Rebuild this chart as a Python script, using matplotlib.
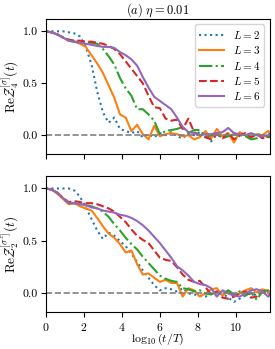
import matplotlib
matplotlib.use("Agg")
import matplotlib.pyplot as plt

plt.rcParams['font.family'] = 'serif'
plt.rcParams['font.serif'] = ['cmr10', 'DejaVu Serif']
plt.rcParams['mathtext.fontset'] = 'cm'
plt.rcParams['axes.formatter.use_mathtext'] = True
plt.rcParams['font.size'] = 8

log_t = [0.0, 0.3, 0.6, 0.9, 1.2, 1.5, 1.8, 2.1, 2.4, 2.7, 3.0, 3.3, 3.6, 3.9, 4.2,
         4.5, 4.8, 5.1, 5.4, 5.7, 6.0, 6.3, 6.6, 6.9, 7.2, 7.5, 7.8, 8.1, 8.4, 8.7,
         9.0, 9.3, 9.6, 9.9, 10.2, 10.5, 10.8, 11.1, 11.4, 11.7, 12.0]

sizes = [2, 3, 4, 5, 6]

# top panel: Re Z_4^[sigma]
z4_L2 = [1.0, 1.0, 1.0, 1.0, 0.99, 0.98, 0.95, 0.85, 0.68, 0.42, 0.22, 0.12, 0.17, 0.06, 0.04,
         0.02, 0.04, -0.02, 0.01, -0.02, 0.02, 0.0, 0.03, -0.01, -0.03, 0.02, 0.0, 0.03, 0.0, -0.06,
         0.01, -0.02, 0.0, 0.02, -0.01, 0.01, -0.02, 0.01, 0.0, 0.02, 0.0]
z4_L3 = [1.0, 0.99, 0.97, 0.94, 0.91, 0.9, 0.88, 0.85, 0.77, 0.69, 0.6, 0.48, 0.36, 0.2, 0.17,
         0.04, 0.1, 0.01, -0.04, 0.09, -0.01, 0.01, 0.02, 0.01, -0.01, 0.0, -0.04, -0.02, 0.04, -0.03,
         0.06, -0.01, 0.02, -0.07, 0.03, 0.0, -0.02, 0.01, 0.0, 0.04, 0.0]
z4_L4 = [1.0, 0.99, 0.97, 0.94, 0.91, 0.9, 0.9, 0.89, 0.89, 0.88, 0.83, 0.76, 0.68, 0.55, 0.45,
         0.38, 0.25, 0.25, 0.2, 0.14, 0.01, 0.04, 0.05, 0.06, 0.08, 0.02, 0.05, 0.05, -0.02, 0.0,
         0.02, -0.03, -0.01, 0.01, 0.0, -0.01, -0.04, -0.03, 0.0, -0.02, 0.0]
z4_L5 = [1.0, 0.99, 0.97, 0.94, 0.92, 0.91, 0.91, 0.9, 0.9, 0.89, 0.88, 0.86, 0.83, 0.78, 0.71,
         0.64, 0.57, 0.5, 0.38, 0.27, 0.26, 0.16, 0.14, 0.15, 0.06, 0.16, 0.03, 0.0, -0.02, -0.04,
         0.01, -0.03, 0.02, -0.04, 0.0, 0.02, -0.02, 0.01, -0.03, -0.01, 0.0]
z4_L6 = [1.0, 0.99, 0.97, 0.94, 0.91, 0.9, 0.89, 0.88, 0.87, 0.86, 0.85, 0.85, 0.84, 0.8, 0.77,
         0.73, 0.67, 0.56, 0.46, 0.37, 0.33, 0.29, 0.25, 0.17, 0.08, 0.03, 0.02, 0.0, 0.01, 0.01,
         0.02, 0.03, 0.07, 0.02, 0.01, 0.0, 0.02, 0.0, -0.01, 0.0, 0.0]

# bottom panel: Re Z_2^[sigma^z]
z2_L2 = [1.0, 1.0, 1.0, 1.0, 1.0, 0.98, 0.92, 0.82, 0.71, 0.6, 0.52, 0.58, 0.55, 0.5, 0.45,
         0.38, 0.3, 0.22, 0.15, 0.08, 0.03, 0.05, 0.04, 0.02, 0.05, 0.0, -0.01, -0.02, -0.03, 0.0,
         -0.02, 0.0, -0.04, -0.08, -0.05, -0.02, 0.0, -0.02, 0.01, -0.01, 0.0]
z2_L3 = [1.0, 0.99, 0.95, 0.9, 0.85, 0.86, 0.83, 0.81, 0.79, 0.72, 0.64, 0.57, 0.53, 0.47, 0.39,
         0.41, 0.28, 0.18, 0.19, 0.15, 0.11, 0.13, 0.1, 0.1, -0.03, 0.05, 0.03, -0.03, 0.0, 0.04,
         0.05, -0.02, 0.02, -0.03, 0.0, 0.03, 0.05, 0.01, 0.04, 0.02, 0.03]
z2_L4 = [1.0, 0.99, 0.96, 0.91, 0.86, 0.86, 0.85, 0.84, 0.83, 0.81, 0.78, 0.73, 0.66, 0.6, 0.53,
         0.47, 0.42, 0.35, 0.29, 0.23, 0.17, 0.14, 0.12, 0.11, 0.05, 0.04, 0.02, 0.03, 0.0, -0.01,
         0.02, 0.0, 0.03, -0.01, 0.02, -0.02, 0.01, -0.06, 0.02, 0.03, 0.02]
z2_L5 = [1.0, 0.99, 0.96, 0.91, 0.87, 0.88, 0.87, 0.86, 0.86, 0.85, 0.83, 0.81, 0.78, 0.73, 0.68,
         0.61, 0.55, 0.51, 0.48, 0.41, 0.34, 0.32, 0.31, 0.25, 0.18, 0.13, 0.11, 0.12, 0.06, -0.01,
         0.02, -0.04, -0.05, -0.03, 0.0, 0.02, -0.04, -0.03, 0.02, -0.02, 0.0]
z2_L6 = [1.0, 0.99, 0.96, 0.91, 0.86, 0.86, 0.85, 0.84, 0.82, 0.81, 0.79, 0.78, 0.77, 0.75, 0.74,
         0.72, 0.69, 0.65, 0.6, 0.54, 0.48, 0.41, 0.34, 0.26, 0.22, 0.17, 0.11, 0.09, 0.08, 0.05,
         -0.03, 0.03, 0.0, -0.02, -0.03, 0.0, 0.03, 0.04, 0.02, -0.03, 0.0]

top_series = [z4_L2, z4_L3, z4_L4, z4_L5, z4_L6]
bottom_series = [z2_L2, z2_L3, z2_L4, z2_L5, z2_L6]
styles = [':', '-', '-.', '--', '-']
colors = ['C0', 'C1', 'C2', 'C3', 'C4']

fig = plt.figure(figsize=(2.75, 3.49), dpi=100)
ax1 = fig.add_axes([0.167, 0.559, 0.815, 0.387])
ax2 = fig.add_axes([0.167, 0.105, 0.815, 0.391])

for ax, series in [(ax1, top_series), (ax2, bottom_series)]:
    for L, y, ls, c in zip(sizes, series, styles, colors):
        ax.plot(log_t, y, ls, color=c, lw=1.5, label=r'$L=$' + str(L))
    ax.axhline(0, color='gray', ls='--', lw=1.2)
    ax.set_xlim(0, 11.8)
    ax.set_ylim(-0.18, 1.12)
    ax.set_xticks([0, 2, 4, 6, 8, 10])
    ax.set_yticks([0.0, 0.5, 1.0])
    ax.set_yticklabels(['0.0', '0.5', '1.0'])
    ax.tick_params(labelsize=8.5, pad=2.5)

ax1.set_xticklabels([])
ax1.set_title(r'$(a)\ \eta = 0.01$', fontsize=9, pad=3)
ax1.set_ylabel(r'$\mathrm{Re}\mathcal{Z}_4^{[\sigma]}(t)$', fontsize=9.5, labelpad=1)
ax1.legend(loc='upper right', fontsize=8, handlelength=2.2, labelspacing=0.3,
           borderpad=0.4, handletextpad=0.8)

ax2.set_ylabel(r'$\mathrm{Re}\mathcal{Z}_2^{[\sigma^z]}(t)$', fontsize=9.5, labelpad=1)
ax2.set_xlabel(r'$\log_{10}(t/T)$', fontsize=8.5)
ax2.xaxis.set_label_coords(0.5, -0.145)

fig.savefig('out.png', dpi=100)
